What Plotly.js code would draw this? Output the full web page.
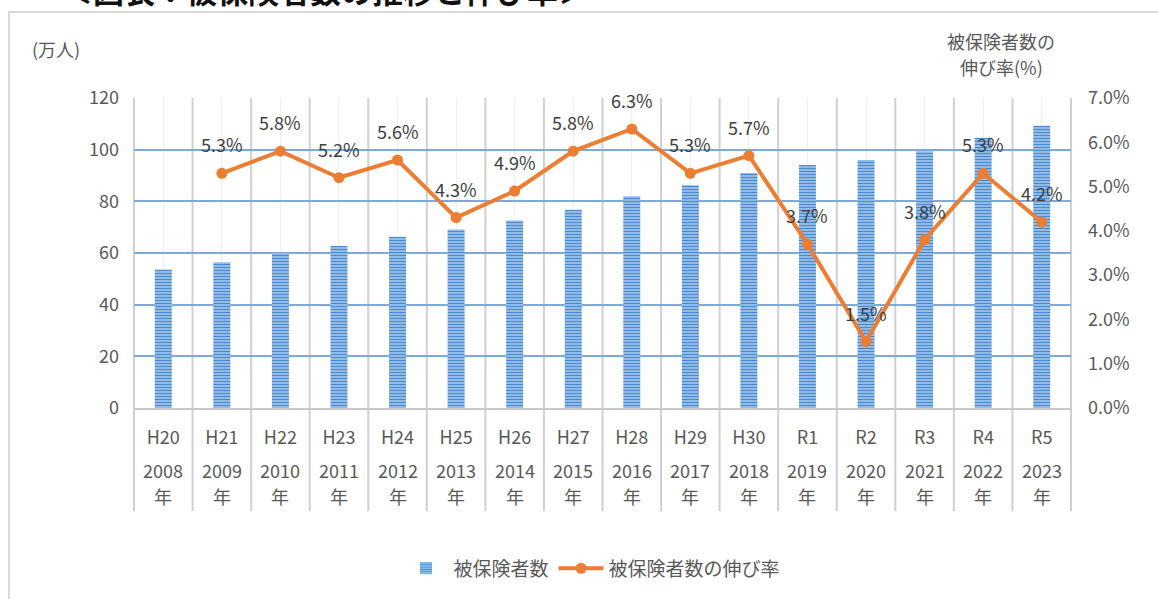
<!DOCTYPE html>
<html>
<head>
<meta charset="utf-8">
<script src="https://cdn.plot.ly/plotly-3.0.1.min.js"></script>
<style>
  html, body { margin: 0; padding: 0; background: #ffffff; overflow: hidden; }
  #frame { position: absolute; left: 8px; top: 11px; width: 1170px; height: 620px; border: 2px solid #D9D9D9; box-sizing: border-box; pointer-events: none; }
  #chart { position: absolute; left: 0; top: 0; width: 1158px; height: 599px; }
</style>
</head>
<body>
<div id="frame"></div>
<div id="chart"></div>
<script>
// ---- data ----
const wareki = ['H20','H21','H22','H23','H24','H25','H26','H27','H28','H29','H30','R1','R2','R3','R4','R5'];
const years  = ['2008','2009','2010','2011','2012','2013','2014','2015','2016','2017','2018','2019','2020','2021','2022','2023'];
const insured = [53.6, 56.4, 59.9, 62.7, 66.3, 69.1, 72.6, 76.7, 82.0, 86.2, 91.0, 94.1, 96.0, 99.4, 104.6, 109.3];
const growthRate = [null, 5.3, 5.8, 5.2, 5.6, 4.3, 4.9, 5.8, 6.3, 5.3, 5.7, 3.7, 1.5, 3.8, 5.3, 4.2];
const seriesNames = ['被保険者数', '被保険者数の伸び率'];
const leftTitle = '(万人)';
const rightTitleLines = ['被保険者数の', '伸び率(%)'];
const yearSuffix = '年';
const headline = '＜図表：被保険者数の推移と伸び率＞';

// ---- layout helpers ----
const FONT = '"Noto Sans CJK JP", "Noto Sans", sans-serif';
const GRAY = '#595959';
const idx = wareki.map((_, i) => i);
const n = wareki.length;

const W = 1158, H = 599;
const M = { l: 134, r: 87, t: 98, b: 186 };
const plotH = H - M.t - M.b;
const plotW = W - M.l - M.r;
const pyFromPx = px => (H - M.b - px) / plotH;   // paper y from page pixel
const pxFromPx = px => (px - M.l) / plotW;       // paper x from page pixel

const bars = {
  type: 'bar',
  name: seriesNames[0],
  x: idx,
  y: insured,
  width: 0.29,
  marker: {
    color: '#8DB8E4',
    line: { width: 0 },
    pattern: { shape: '-', fgcolor: '#4A8BD0', bgcolor: '#A8CBEE', size: 3, solidity: 0.5 }
  },
  hoverinfo: 'y'
};

const line = {
  type: 'scatter',
  mode: 'lines+markers',
  name: seriesNames[1],
  x: idx,
  y: growthRate,
  yaxis: 'y2',
  connectgaps: false,
  line: { color: '#ED7D31', width: 4 },
  marker: { color: '#ED7D31', size: 11 }
};

const annotations = [];
// data labels for the growth rate
idx.forEach(i => {
  if (growthRate[i] === null) return;
  annotations.push({
    x: i, y: growthRate[i], xref: 'x', yref: 'y2',
    text: growthRate[i].toFixed(1) + '%', showarrow: false, yshift: 29,
    font: { family: FONT, size: 18, color: '#404040' }
  });
});
// year rows under the wareki tick labels
idx.forEach(i => {
  annotations.push({
    x: i, y: pyFromPx(476), xref: 'x', yref: 'paper', yanchor: 'middle',
    text: years[i], showarrow: false,
    font: { family: FONT, size: 18, color: GRAY }
  });
  annotations.push({
    x: i, y: pyFromPx(502), xref: 'x', yref: 'paper', yanchor: 'middle',
    text: yearSuffix, showarrow: false,
    font: { family: FONT, size: 18, color: GRAY }
  });
});
// axis titles
annotations.push({
  x: pxFromPx(56), y: pyFromPx(48), xref: 'paper', yref: 'paper',
  xanchor: 'center', yanchor: 'middle', text: leftTitle, showarrow: false,
  font: { family: FONT, size: 18, color: GRAY }
});
rightTitleLines.forEach((t, k) => {
  annotations.push({
    x: pxFromPx(1001), y: pyFromPx(40 + 26 * k), xref: 'paper', yref: 'paper',
    xanchor: 'center', yanchor: 'middle', text: t, showarrow: false,
    font: { family: FONT, size: 18, color: GRAY }
  });
});
// headline cut off by the top edge
annotations.push({
  x: pxFromPx(60), y: pyFromPx(13), xref: 'paper', yref: 'paper',
  xanchor: 'left', yanchor: 'bottom', text: '<b>' + headline + '</b>', showarrow: false,
  font: { family: FONT, size: 31, color: '#111111' }
});

// category separators (plot area and label area)
const shapes = [];
for (let i = 0; i <= n; i++) {
  shapes.push({
    type: 'line', xref: 'paper', yref: 'paper',
    x0: i / n, x1: i / n, y0: pyFromPx(518), y1: 1,
    line: { color: '#D0D0D0', width: 2 }, layer: 'below'
  });
}

const layout = {
  width: W, height: H,
  margin: M,
  paper_bgcolor: 'rgba(0,0,0,0)',
  plot_bgcolor: 'rgba(0,0,0,0)',
  font: { family: FONT, size: 18, color: GRAY },
  showlegend: true,
  legend: {
    orientation: 'h', x: pxFromPx(592), xanchor: 'center', y: pyFromPx(576), yanchor: 'middle',
    font: { family: FONT, size: 19, color: GRAY }, traceorder: 'normal', itemwidth: 45
  },
  bargap: 0.7,
  xaxis: {
    range: [-0.5, n - 0.5],
    tickvals: idx, ticktext: wareki,
    ticks: '', ticklabelstandoff: 12,
    showgrid: true, gridcolor: '#EEEEEE', gridwidth: 1,
    zeroline: false, showline: true, linecolor: '#C8C8C8', linewidth: 2,
    tickfont: { family: FONT, size: 18, color: GRAY },
    fixedrange: true
  },
  yaxis: {
    range: [0, 120], dtick: 20,
    showgrid: true, gridcolor: '#7EAADB', gridwidth: 2,
    zeroline: false, showline: false, ticks: '', ticklabelstandoff: 14,
    tickfont: { family: FONT, size: 18, color: GRAY },
    fixedrange: true
  },
  yaxis2: {
    overlaying: 'y', side: 'right',
    range: [0, 7], dtick: 1, tickformat: '.1f', ticksuffix: '%',
    showgrid: false, zeroline: false, showline: false, ticks: '', ticklabelstandoff: 16,
    tickfont: { family: FONT, size: 18, color: GRAY },
    fixedrange: true
  },
  annotations: annotations,
  shapes: shapes
};

Plotly.newPlot('chart', [bars, line], layout, { displayModeBar: false, staticPlot: true });
</script>
</body>
</html>
